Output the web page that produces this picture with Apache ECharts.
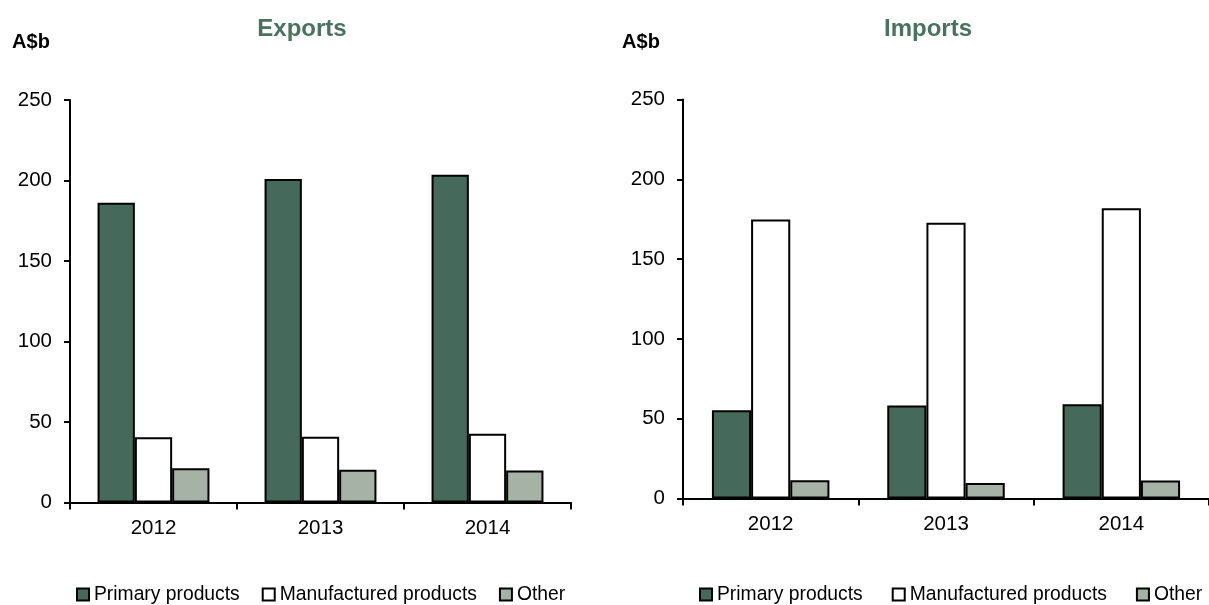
<!DOCTYPE html>
<html><head><meta charset="utf-8">
<script src="https://cdn.jsdelivr.net/npm/echarts@6/dist/echarts.min.js"></script>
<style>html,body{margin:0;padding:0;background:#fff}#c{width:1209px;height:605px}</style>
</head><body><div id="c"></div>
<script>
const years = ['2012', '2013', '2014'];
const seriesNames = ['Primary products', 'Manufactured products', 'Other'];
const exportsPrimary = [186.2, 200.9, 203.6];
const exportsManufactured = [40.5, 40.9, 42.7];
const exportsOther = [21.2, 20.4, 19.8];
const importsPrimary = [55.3, 58.2, 59.0];
const importsManufactured = [174.8, 172.7, 181.9];
const importsOther = [11.4, 9.7, 11.2];
const yMin = 0, yMax = 250, yStep = 50;
const panelTitles = ['Exports', 'Imports'];
const unitLabel = 'A$b';

const FONT = 'Liberation Sans, Arial, sans-serif';
const colors = ['#45695A', '#FFFFFF', '#A5B2A5'];
const chart = echarts.init(document.getElementById('c'), null, {renderer: 'canvas'});

function xAxis(gi) {
  return {
    type: 'category', gridIndex: gi, data: years,
    axisLine: {lineStyle: {color: '#000', width: 2}},
    axisTick: {show: true, length: 7, lineStyle: {color: '#000', width: 2}},
    axisLabel: {color: '#000', fontSize: 20.5, fontFamily: FONT, margin: 15},
    splitLine: {show: false}
  };
}
function yAxis(gi) {
  return {
    type: 'value', gridIndex: gi, min: yMin, max: yMax, interval: yStep,
    axisLine: {show: true, lineStyle: {color: '#000', width: 2}},
    axisTick: {show: true, length: 6, lineStyle: {color: '#000', width: 2}},
    axisLabel: {color: '#000', fontSize: 20.5, fontFamily: FONT, margin: 18},
    splitLine: {show: false}
  };
}
function bar(name, data, gi, ci) {
  return {
    type: 'bar', name: name, data: data, xAxisIndex: gi, yAxisIndex: gi,
    barGap: '0%', barCategoryGap: '33%',
    itemStyle: {color: colors[ci], borderColor: '#000', borderWidth: 2},
    emphasis: {disabled: true}
  };
}
function legend(left, gap) {
  return {
    left: left, top: 585, padding: 0, itemGap: gap, icon: 'rect',
    itemWidth: 12, itemHeight: 12,
    data: seriesNames,
    itemStyle: {borderColor: '#000', borderWidth: 2},
    textStyle: {color: '#000', fontSize: 19.3, fontFamily: FONT}
  };
}
function txt(x, y, text, color, size) {
  return {type: 'text', x: x, y: y, silent: true,
    style: {text: text, fill: color, font: 'bold ' + size + 'px ' + FONT, align: 'center', verticalAlign: 'middle'}};
}

chart.setOption({
  animation: false,
  backgroundColor: '#fff',
  grid: [
    {left: 70, top: 100, width: 501, height: 402.5},
    {left: 683, top: 99.5, width: 528, height: 399}
  ],
  xAxis: [xAxis(0), xAxis(1)],
  yAxis: [yAxis(0), yAxis(1)],
  legend: [legend(76, 22), legend(699, 29)],
  graphic: [
    txt(302, 29, panelTitles[0], '#4A7260', 24),
    txt(928, 29, panelTitles[1], '#4A7260', 24),
    txt(31, 42.5, unitLabel, '#000', 20),
    txt(641, 42.5, unitLabel, '#000', 20)
  ],
  series: [
    bar(seriesNames[0], exportsPrimary, 0, 0),
    bar(seriesNames[1], exportsManufactured, 0, 1),
    bar(seriesNames[2], exportsOther, 0, 2),
    bar(seriesNames[0], importsPrimary, 1, 0),
    bar(seriesNames[1], importsManufactured, 1, 1),
    bar(seriesNames[2], importsOther, 1, 2)
  ]
});
</script></body></html>
